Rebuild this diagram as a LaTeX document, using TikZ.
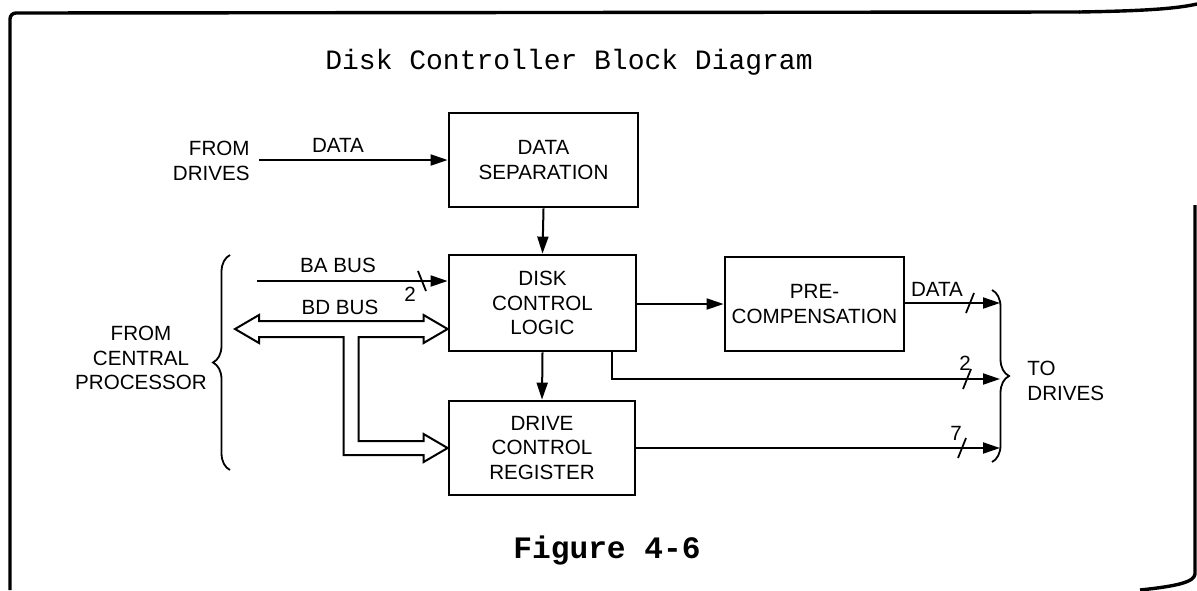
\documentclass[tikz,border=0pt]{standalone}
\usepackage{fontspec}
\setmainfont{Liberation Sans}
\newfontfamily\titlemono{Liberation Mono}
\usetikzlibrary{arrows.meta,calc,decorations.pathreplacing}
\newcommand\lblfont{\fontsize{10.3}{12.2}\selectfont}
\begin{document}
\begin{tikzpicture}[x=0.5pt,y=-0.5pt,
  blk/.style={draw,line width=1.4pt,align=center,font=\lblfont,inner sep=0pt},
  conn/.style={line width=1pt,-{Triangle[length=8.5pt,width=5.5pt]}},
  plain/.style={line width=1pt},
  tick/.style={line width=0.9pt},
  lbl/.style={font=\lblfont,inner sep=0pt,align=center},
  bus/.style={line width=1pt,line join=miter},
  frame/.style={line width=1.7pt},
  brc/.style={line width=0.9pt,decorate,decoration={brace,amplitude=8.5pt}}]
\useasboundingbox (0,0) rectangle (1197,590);

% frame
\draw[frame,rounded corners=3pt] (10,590) -- (10,13) -- (1080,12);
\draw[frame] (1079,12) .. controls (1140,11) and (1175,9) .. (1197,4);
\draw[frame] (1195,205) -- (1195,574) .. controls (1194,582) and (1178,586) .. (1140,590);

% title and caption
\node[font=\titlemono\fontsize{14}{16}\selectfont,inner sep=0pt] (title) at (569,62) {Disk Controller Block Diagram};
\node[font=\titlemono\bfseries\fontsize{15.6}{18}\selectfont,inner sep=0pt] (fig) at (607,550) {Figure 4-6};

% blocks
\node[blk,minimum width=94.5pt,minimum height=47pt] (ds) at (543.5,160) {DATA\\SEPARATION};
\node[blk,minimum width=93.5pt,minimum height=48pt] (dcl) at (542.5,303) {DISK\\CONTROL\\LOGIC};
\node[blk,minimum width=89.5pt,minimum height=47pt] (pre) at (814.5,304) {PRE-\\COMPENSATION};
\node[blk,minimum width=93pt,minimum height=47pt] (dcr) at (542,448) {DRIVE\\CONTROL\\REGISTER};

% free end points
\coordinate (fd) at (259,160);
\coordinate (ba) at (257,281);
\coordinate (bdL) at (235,329);
\coordinate (o1) at (1000,303);
\coordinate (o2) at (1000,379);
\coordinate (o3) at (1000,448);

% left labels
\node[lbl,anchor=east,align=right] (fromdrv) at (250,161) {FROM\\DRIVES};
\node[lbl] (fromcp) at (141,358) {FROM\\CENTRAL\\PROCESSOR};
\node[lbl] (ldata) at (338,145) {DATA};
\node[lbl] (lba) at (338,265) {BA BUS};
\node[lbl] (lbd) at (340,307) {BD BUS};
\node[lbl] (l2a) at (410,294) {2};

% right labels
\node[lbl] (rdata) at (937,289) {DATA};
\node[lbl] (r2) at (965,363) {2};
\node[lbl] (r7) at (956,433) {7};
\node[lbl,anchor=west,align=left] (todrv) at (1027,381) {TO\\DRIVES};

% connectors
\draw[conn] (fd) -- (ds.west);
\draw[conn] (ds.south) -- (dcl.north);
\draw[conn] (dcl.south) -- (dcr.north);
\draw[conn] (ba) -- (ba -| dcl.west);
\draw[conn] (dcl.east |- pre.west) -- (pre.west);
\draw[conn] (pre.east |- o1) -- (o1);
\draw[conn] ($(dcl.south east)+(-25,0)$) |- (o2);
\draw[conn] (dcr.east) -- (o3);

% bus-width ticks
\draw[tick] (422,281) +(-4,-10) -- +(4,10);
\draw[tick] (970,303) +(4,-10) -- +(-4,10);
\draw[tick] (967,379) +(4,-10) -- +(-4,10);
\draw[tick] (962,448) +(4,-10) -- +(-4,10);

% BD bus (double-line arrow)
\coordinate (t1) at (dcl.west |- bdL);
\coordinate (t2) at (dcr.west);
\draw[bus] (bdL) -- ++(24,-14) -- ++(0,6) -- ($(t1)+(-24,-8)$) -- ++(0,-6) -- (t1)
  -- ++(-24,14) -- ++(0,-6) -- ($(t1)+(-89,8)$) -- ($(t2)+(-89,-7)$) -- ($(t2)+(-24,-7)$)
  -- ++(0,-7) -- (t2) -- ++(-24,14) -- ++(0,-7) -- ($(t2)+(-104,7)$) -- ($(t1)+(-104,8)$)
  -- ($(bdL)+(24,8)$) -- ++(0,6) -- cycle;

% braces
\draw[brc] (230,470) -- (230,255);
\draw[brc] (992,290) -- (992,462);
\end{tikzpicture}
\end{document}
